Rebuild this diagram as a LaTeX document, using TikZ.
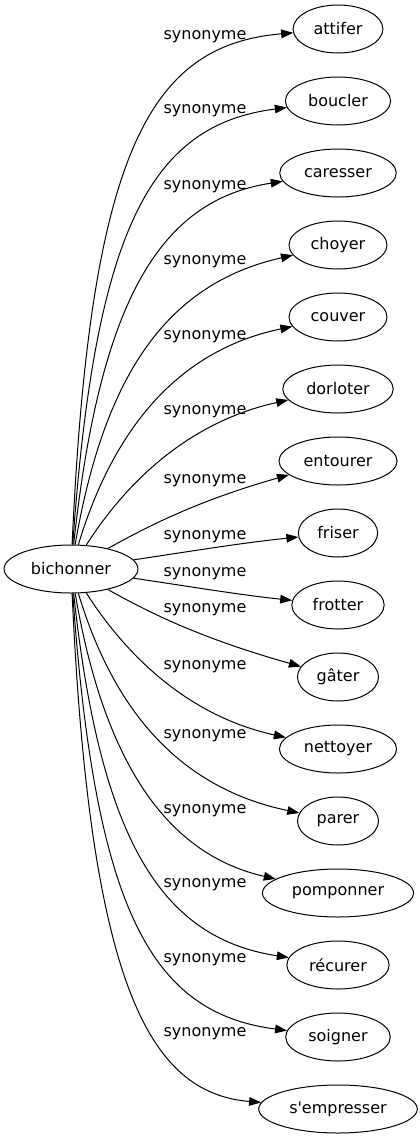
\documentclass[tikz,border=0pt]{standalone}
\usepackage{fontspec}
\setmainfont{DejaVu Sans}
\usetikzlibrary{shapes.geometric, arrows.meta}

\tikzset{
  mot/.style={draw, ellipse, minimum height=36pt, inner xsep=5.5pt, inner ysep=2pt, line width=0.75pt},
  syn/.style={-{Triangle[length=9pt,width=6.5pt]}, line width=0.75pt},
  lbl/.style={inner sep=0pt}
}

\begin{document}
\begin{tikzpicture}[x=0.75pt, y=-0.75pt, font=\fontsize{12}{14}\selectfont]
	\useasboundingbox (0,0) rectangle (420,1139);
	\node[mot] (bichonner) at (71,569) {bichonner};
	\foreach \nom/\txt/\ty/\ly/\ax/\ay/\bx/\by in {
		attifer/attifer/29/37/90/150/150/45,
		boucler/boucler/101/111/95/230/150/125,
		caresser/caresser/173/187/100/300/160/200,
		choyer/choyer/245/262/105/370/170/283,
		couver/couver/317/337/110/440/170/352,
		dorloter/dorloter/389/412/115/500/175/425,
		entourer/entourer/461/481/150/525/200/500,
		friser/friser/533/537/180/553/240/543,
		frotter/frotter/605/574/180/585/240/595,
		gater/g\^ater/677/610/150/613/200/638,
		nettoyer/nettoyer/749/667/115/638/175/713,
		parer/parer/821/736/110/698/170/786,
		pomponner/pomponner/893/811/105/768/170/855,
		recurer/r\'ecurer/965/885/100/838/160/938,
		soigner/soigner/1037/960/95/908/150/1013,
		sempresser/s\textquotesingle empresser/1109/1034/90/988/150/1093}
	{
		\node[mot] (\nom) at (338,\ty) {\txt};
		\node[lbl] (s\nom) at (205,\ly) {synonyme};
		\draw[syn] (bichonner) .. controls (\ax,\ay) and (\bx,\by) .. (\nom);
	}
\end{tikzpicture}
\end{document}
